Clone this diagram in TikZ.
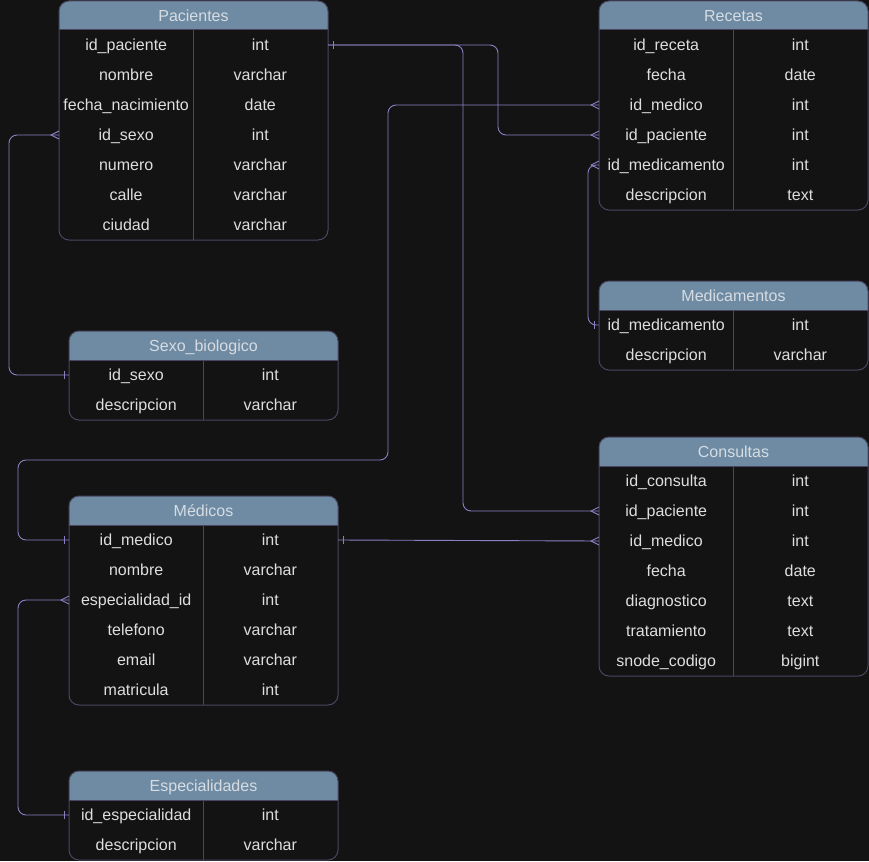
\documentclass[tikz,border=0pt]{standalone}
\usepackage{fontspec}
\setmainfont{Liberation Sans}
\usetikzlibrary{calc}
\definecolor{bgc}{HTML}{131313}
\definecolor{hdrc}{HTML}{6E8BA3}
\definecolor{bordc}{HTML}{4A4560}
\definecolor{connc}{HTML}{8A80C4}
\definecolor{txtc}{HTML}{DEDEDE}
\definecolor{htxtc}{HTML}{D6DCE2}
\tikzset{
  cell/.style={inner sep=0pt, minimum height=30pt, text=txtc, text height=14.5pt, text depth=3pt, font=\fontsize{16pt}{19pt}\selectfont, align=center},
  htitle/.style={inner sep=0pt, text=htxtc, text height=14.5pt, text depth=3pt, font=\fontsize{16pt}{19pt}\selectfont},
  conn/.style={draw=connc, line width=0.9pt, rounded corners=8pt},
  ermark/.style={draw=connc, line width=0.9pt},
  frame/.style={draw=bordc, line width=1pt}
}
% #1 id, #2 title, #3 x, #4 y top, #5 header height, #6 rows
\newcommand\ertable[6]{%
  \fill[bgc, rounded corners=10pt] (#3,#4) rectangle ++(269,{#5+30*\numrows});
  \fill[hdrc] (#3,{#4+#5}) {[rounded corners=10pt] -- (#3,#4) -- ({#3+269},#4)} -- ({#3+269},{#4+#5}) -- cycle;
  \node[htitle] (#1) at ({#3+134.5},{#4+#5/2+0.5}) {#2};
  \draw[frame] ({#3+134},{#4+#5}) -- ({#3+134},{#4+#5+30*\numrows});
  \draw[frame] (#3,{#4+#5}) -- ({#3+269},{#4+#5});
  \draw[frame, rounded corners=10pt] (#3,#4) rectangle ++(269,{#5+30*\numrows});
  \foreach \lt/\rt [count=\i] in {#6}{
    \node[cell, anchor=west, minimum width=134pt] (#1-\i-l) at (#3,{#4+#5+30*\i-15}) {\lt};
    \node[cell, anchor=east, minimum width=135pt] (#1-\i-r) at ({#3+269},{#4+#5+30*\i-15}) {\rt};
  }
}
\newcommand\manyW[1]{\draw[ermark] ([yshift=4pt]#1.west) -- ([xshift=-8pt]#1.west) -- ([yshift=-4pt]#1.west);}
\newcommand\oneW[1]{\draw[ermark] ([xshift=-5pt,yshift=4pt]#1.west) -- ([xshift=-5pt,yshift=-4pt]#1.west);}
\newcommand\oneE[1]{\draw[ermark] ([xshift=5pt,yshift=4pt]#1.east) -- ([xshift=5pt,yshift=-4pt]#1.east);}
\begin{document}
\begin{tikzpicture}[x=1pt,y=-1pt]
\fill[bgc] (0,0) rectangle (869,861);
\useasboundingbox (0,0) rectangle (869,861);

\def\numrows{7}
\ertable{pac}{Pacientes}{59}{1}{29}{id\_paciente/int, nombre/varchar, fecha\_nacimiento/date, id\_sexo/int, numero/varchar, calle/varchar, ciudad/varchar}
\def\numrows{6}
\ertable{rec}{Recetas}{599}{1}{29}{id\_receta/int, fecha/date, id\_medico/int, id\_paciente/int, id\_medicamento/int, descripcion/text}
\def\numrows{2}
\ertable{mdc}{Medicamentos}{599}{281}{29}{id\_medicamento/int, descripcion/varchar}
\def\numrows{2}
\ertable{sex}{Sexo\_biologico}{69}{331}{29}{id\_sexo/int, descripcion/varchar}
\def\numrows{7}
\ertable{con}{Consultas}{599}{437}{29}{id\_consulta/int, id\_paciente/int, id\_medico/int, fecha/date, diagnostico/text, tratamiento/text, snode\_codigo/bigint}
\def\numrows{6}
\ertable{med}{Médicos}{69}{496}{29}{id\_medico/int, nombre/varchar, especialidad\_id/int, telefono/varchar, email/varchar, matricula/int}
\def\numrows{2}
\ertable{esp}{Especialidades}{69}{771}{29}{id\_especialidad/int, descripcion/varchar}

% connectors
\draw[conn] (pac-4-l.west) -- ++(-50,0) |- (sex-1-l.west);
\manyW{pac-4-l}\oneW{sex-1-l}

\draw[conn] (pac-1-r.east) -- ++(170,0) |- (rec-4-l.west);
\draw[conn] (pac-1-r.east) -- ++(135,0) |- (con-2-l.west);
\oneE{pac-1-r}\manyW{rec-4-l}\manyW{con-2-l}

\draw[conn] (rec-3-l.west) -- ++(-211,0) -- ++(0,355) -| ([xshift=-51pt]med-1-l.west) -- (med-1-l.west);
\manyW{rec-3-l}\oneW{med-1-l}

\draw[conn] (con-3-l.west) -- (med-1-r.east);
\manyW{con-3-l}\oneE{med-1-r}

\draw[conn] (rec-5-l.west) -- ++(-11,0) |- (mdc-1-l.west);
\manyW{rec-5-l}\oneW{mdc-1-l}

\draw[conn] (med-3-l.west) -- ++(-51,0) |- (esp-1-l.west);
\manyW{med-3-l}\oneW{esp-1-l}
\end{tikzpicture}
\end{document}
